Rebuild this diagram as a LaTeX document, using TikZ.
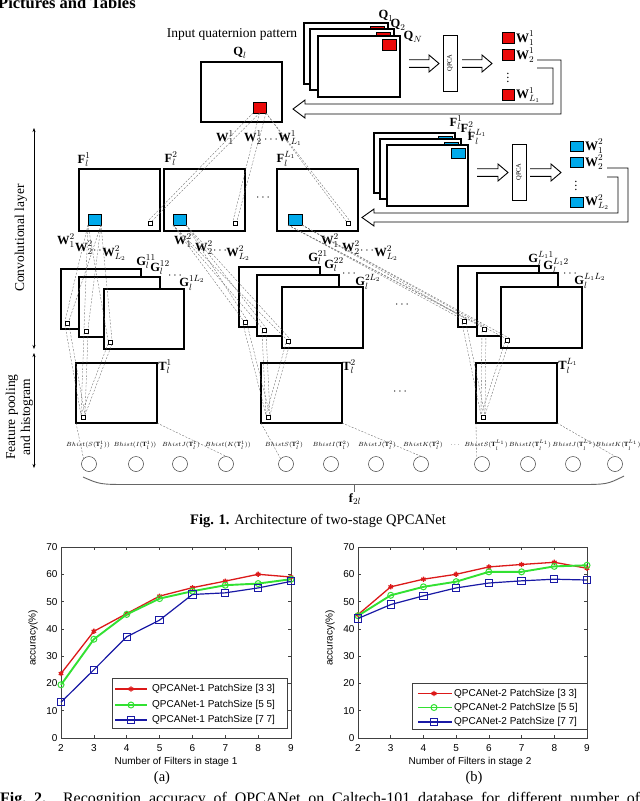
\documentclass[tikz,border=0pt]{standalone}
\usepackage{fontspec}
\setmainfont{Liberation Serif}
\newfontfamily\plotfont{Liberation Sans}
\usetikzlibrary{plotmarks,arrows.meta}
\definecolor{qred}{RGB}{235,10,10}
\definecolor{qcyan}{RGB}{0,170,235}
\definecolor{dgray}{RGB}{105,105,105}
\definecolor{mred}{RGB}{220,25,25}
\definecolor{mgreen}{RGB}{50,225,50}
\definecolor{mblue}{RGB}{25,25,165}
\newcommand\mkbox[6]{%
  \pgfmathsetmacro\mkbw{#5-#3}\pgfmathsetmacro\mkbh{#6-#4}%
  \node[#2, minimum width=\mkbw pt, minimum height=\mkbh pt, inner sep=0pt, outer sep=0pt, anchor=north west] (#1) at (#3,#4) {};}
\newcommand\dblarrow[4]{%
  \draw[harr] (#1,#4-3.8) -- (#2,#4-3.8) -- (#2,#4-8.5) -- (#3,#4) -- (#2,#4+8.5) -- (#2,#4+3.8) -- (#1,#4+3.8);}
\newcommand\bW[2]{$\textbf{W}^{#1}_{#2}$}
\begin{document}
\begin{tikzpicture}[x=1pt,y=-1pt,
  bx/.style={draw=black, line width=1.1pt, fill=white},
  sqr/.style={draw=black, line width=0.6pt, fill=qred},
  sqc/.style={draw=black, line width=0.6pt, fill=qcyan},
  sqw/.style={draw=black, line width=0.6pt, fill=white},
  pbox/.style={draw=black, line width=0.9pt, fill=white},
  dl/.style={draw=dgray, line width=0.35pt, dash pattern=on 2pt off 1.5pt},
  lab/.style={inner sep=0pt, font=\fontsize{12.5}{12}\selectfont},
  wlab/.style={inner sep=0pt, font=\fontsize{13}{12}\selectfont, anchor=west},
  hl/.style={inner sep=0pt, font=\fontsize{6.4}{7}\selectfont},
  circ/.style={draw=black!75, line width=0.5pt, circle, minimum size=15pt, inner sep=0pt},
  harr/.style={draw=black, line width=0.9pt, line join=miter},
  side/.style={inner sep=0pt, font=\fontsize{13.5}{15}\selectfont, rotate=90, align=center},
  ptxt/.style={inner sep=0pt, font=\plotfont\fontsize{10}{10}\selectfont},
  captxt/.style={inner sep=0pt, font=\fontsize{14.5}{15}\selectfont},
  sarr/.style={line width=0.5pt, {Stealth[length=4pt,width=3pt]}-{Stealth[length=4pt,width=3pt]}},
]
\useasboundingbox (0,0) rectangle (640,801);
\fill[white] (0,0) rectangle (640,801);

% header
\node[anchor=base west, inner sep=0, font=\fontsize{16.5}{16}\selectfont\bfseries] (hdr) at (-2,8) {Pictures and Tables};

% ---------- input level ----------
\node[inner sep=0, font=\fontsize{13.5}{14}\selectfont] (inp) at (232,34) {Input quaternion pattern};
\mkbox{qb}{bx}{304}{23}{388}{84}
\mkbox{qbs}{sqr}{370}{26}{384}{37}
\mkbox{qm}{bx}{310}{29}{394}{90}
\mkbox{qms}{sqr}{376}{32}{390}{43}
\mkbox{qf}{bx}{318}{36}{400}{97}
\mkbox{qfs}{sqr}{382}{39}{396}{50}
\node[lab] (lq1) at (386,16) {$\textbf{Q}_1$};
\node[lab] (lq2) at (398,25) {$\textbf{Q}_2$};
\node[lab] (lqn) at (413,37) {$\textbf{Q}_N$};

\node[lab] (lql) at (240,53) {$\textbf{Q}_l$};
\mkbox{ql}{bx}{201}{62}{282}{122}
\mkbox{qls}{sqr}{253}{102}{266}{113}

\dblarrow{409}{429}{439}{63.5}
\mkbox{qp1}{pbox}{443}{35}{457}{91}
\node[rotate=90, inner sep=0, font=\fontsize{6.5}{6.5}\selectfont] (qp1t) at (qp1.center) {QPCA};
\dblarrow{462}{482}{492}{63.5}

\mkbox{w11}{sqr}{502}{32}{514}{43}
\mkbox{w12}{sqr}{502}{49}{514}{60}
\mkbox{w1L}{sqr}{502}{89}{514}{100}
\node[wlab] (lw11) at (516,38) {\bW{1}{1}};
\node[wlab] (lw12) at (516,55) {\bW{1}{2}};
\node[wlab] (lw1L) at (516,95) {\bW{1}{L_1}};
\node[lab] (w1d) at (508,75) {$\vdots$};

\draw[harr] (537,60) -- (561,60) -- (561,114) -- (305,114) -- (305,118) -- (293,109)
  -- (305,100) -- (305,104) -- (553,104) -- (553,68) -- (537,68);

\node[lab] (lw1a) at (225,138) {\bW{1}{1}};
\node[lab] (lw1b) at (253,138) {\bW{1}{2}};
\node[lab] (lw1d) at (271,140) {$\cdots$};
\node[lab] (lw1c) at (290,138) {\bW{1}{L_1}};

% ---------- first stage maps ----------
\node[lab] (lf1) at (84,160) {$\textbf{F}^1_l$};
\node[lab] (lf2) at (171,159) {$\textbf{F}^2_l$};
\node[lab] (lfL) at (286,159) {$\textbf{F}^{L_1}_l$};
\mkbox{f1}{bx}{79}{169}{160}{231}
\mkbox{f2}{bx}{164}{169}{245}{231}
\mkbox{fL}{bx}{277}{169}{358}{231}
\mkbox{fb1}{sqc}{88}{214}{101}{225}
\mkbox{fb2}{sqc}{173}{214}{186}{225}
\mkbox{fbL}{sqc}{288}{214}{302}{225}
\mkbox{f1s}{sqw}{148}{221}{152}{225}
\mkbox{f2s}{sqw}{233}{221}{237}{225}
\mkbox{fLs}{sqw}{346}{221}{350}{225}
\node[lab] (fdots) at (263,198) {$\cdots$};

% stack of F for second QPCA
\mkbox{sb}{bx}{374}{133}{455}{193}
\mkbox{sbs}{sqc}{438}{136}{452}{146}
\mkbox{sm}{bx}{380}{139}{461}{199}
\mkbox{sms}{sqc}{444}{142}{458}{152}
\mkbox{sf}{bx}{387}{145}{468}{206}
\mkbox{sfs}{sqc}{451}{148}{465}{158}
\node[lab] (ls1) at (456,123) {$\textbf{F}^1_l$};
\node[lab] (ls2) at (467,129) {$\textbf{F}^2_l$};
\node[lab] (lsL) at (477,137) {$\textbf{F}^{L_1}_l$};

\dblarrow{477}{498}{508}{172.5}
\mkbox{qp2}{pbox}{512}{144}{526}{200}
\node[rotate=90, inner sep=0, font=\fontsize{6.5}{6.5}\selectfont] (qp2t) at (qp2.center) {QPCA};
\dblarrow{530}{551}{561}{172.5}

\mkbox{w21}{sqc}{570}{141}{583}{151}
\mkbox{w22}{sqc}{570}{157}{583}{167}
\mkbox{w2L}{sqc}{570}{197}{583}{207}
\node[wlab] (lw21) at (585,146) {\bW{2}{1}};
\node[wlab] (lw22) at (585,162) {\bW{2}{2}};
\node[wlab] (lw2L) at (585,202) {\bW{2}{L_2}};
\node[lab] (w2d) at (576,183) {$\vdots$};

\draw[harr] (607,168) -- (628,168) -- (628,222) -- (374,222) -- (374,226) -- (362,217.5)
  -- (374,209) -- (374,213) -- (618,213) -- (618,177) -- (607,177);

% W^2 labels under F maps
\node[lab] (a1) at (66,241) {\bW{2}{1}};
\node[lab] (a2) at (84,248) {\bW{2}{2}};
\node[lab] (ad) at (100,251) {$\cdots$};
\node[lab] (a3) at (114,253) {\bW{2}{L_2}};
\node[lab] (b1) at (183,241) {\bW{2}{1}};
\node[lab] (b2) at (204,248) {\bW{2}{2}};
\node[lab] (bd) at (220,251) {$\cdots$};
\node[lab] (b3) at (238,253) {\bW{2}{L_2}};
\node[lab] (c1) at (330,241) {\bW{2}{1}};
\node[lab] (c2) at (351,248) {\bW{2}{2}};
\node[lab] (cd) at (367,251) {$\cdots$};
\node[lab] (c3) at (386,253) {\bW{2}{L_2}};

% ---------- second stage maps ----------
\mkbox{g1a}{bx}{61}{269}{141}{329}
\mkbox{g1as}{sqw}{65}{321}{69}{325}
\mkbox{g1b}{bx}{79}{277}{160}{337}
\mkbox{g1bs}{sqw}{84}{329}{88}{333}
\mkbox{g1c}{bx}{104}{289}{184}{349}
\mkbox{g1cs}{sqw}{108}{340}{112}{344}
\node[lab] (lg11) at (146,262) {$\textbf{G}^{11}_l$};
\node[lab] (lg12) at (160,268) {$\textbf{G}^{12}_l$};
\node[lab] (lg1d) at (175,276) {$\cdots$};
\node[lab] (lg13) at (192,283) {$\textbf{G}^{1L_2}_l$};

\mkbox{g2a}{bx}{239}{267}{320}{327}
\mkbox{g2as}{sqw}{243}{320}{247}{324}
\mkbox{g2b}{bx}{257}{275}{339}{336}
\mkbox{g2bs}{sqw}{262}{328}{266}{332}
\mkbox{g2c}{bx}{282}{287}{363}{348}
\mkbox{g2cs}{sqw}{286}{339}{290}{343}
\node[lab] (lg21) at (318,258) {$\textbf{G}^{21}_l$};
\node[lab] (lg22) at (334,265) {$\textbf{G}^{22}_l$};
\node[lab] (lg2d) at (349,274) {$\cdots$};
\node[lab] (lg23) at (368,282) {$\textbf{G}^{2L_2}_l$};

\mkbox{g3a}{bx}{458}{266}{539}{327}
\mkbox{g3as}{sqw}{462}{319}{466}{323}
\mkbox{g3b}{bx}{477}{273}{558}{336}
\mkbox{g3bs}{sqw}{482}{327}{486}{331}
\mkbox{g3c}{bx}{501}{287}{582}{348}
\mkbox{g3cs}{sqw}{505}{338}{509}{342}
\node[lab] (lg31) at (541,259) {$\textbf{G}^{L_11}_l$};
\node[lab] (lg32) at (556,266) {$\textbf{G}^{L_12}_l$};
\node[lab] (lg3d) at (570,274) {$\cdots$};
\node[lab] (lg33) at (590,281) {$\textbf{G}^{L_1L_2}_l$};
\node[lab] (gdots) at (402,305) {$\cdots$};

% ---------- pooling ----------
\mkbox{t1}{bx}{76}{363}{157}{423}
\mkbox{t1s}{sqw}{81}{415}{85}{419}
\mkbox{t2}{bx}{261}{363}{342}{423}
\mkbox{t2s}{sqw}{266}{415}{270}{419}
\mkbox{t3}{bx}{476}{363}{557}{423}
\mkbox{t3s}{sqw}{481}{415}{485}{419}
\node[lab] (lt1) at (165,367) {$\textbf{T}^{1}_l$};
\node[lab] (lt2) at (349,367) {$\textbf{T}^{2}_l$};
\node[lab] (lt3) at (568,366) {$\textbf{T}^{L_1}_l$};
\node[lab] (tdots) at (400,392) {$\cdots$};

\node[hl] (h1) at (88,445) {$Bhist(S(\textbf{T}^{1}_{l}))$};
\node[hl] (h2) at (135,445) {$Bhist(I(\textbf{T}^{1}_{l}))$};
\node[hl] (h3) at (181,445) {$BhistJ(\textbf{T}^{1}_{l})$};
\node[hl] (h4) at (228,445) {$Bhist(K(\textbf{T}^{1}_{l}))$};
\node[hl] (h5) at (284,445) {$BhistS(\textbf{T}^{2}_{l})$};
\node[hl] (h6) at (331,445) {$BhistI(\textbf{T}^{2}_{l})$};
\node[hl] (h7) at (377,445) {$BhistJ(\textbf{T}^{2}_{l})$};
\node[hl] (h8) at (423,445) {$BhistK(\textbf{T}^{2}_{l})$};
\node[hl] (hd) at (455,445) {$\cdots$};
\node[hl] (h9) at (486,445) {$BhistS(\textbf{T}^{L_1}_{l})$};
\node[hl] (h10) at (530,445) {$BhistI(\textbf{T}^{L_1}_{l})$};
\node[hl] (h11) at (574,445) {$BhistJ(\textbf{T}^{L_1}_{l})$};
\node[hl] (h12) at (618,445) {$BhistK(\textbf{T}^{L_1}_{l})$};

\node[circ] (o1) at (89,464) {};
\node[circ] (o2) at (136,464) {};
\node[circ] (o3) at (180,464) {};
\node[circ] (o4) at (226,464) {};
\node[circ] (o5) at (286,464) {};
\node[circ] (o6) at (331,464) {};
\node[circ] (o7) at (376,464) {};
\node[circ] (o8) at (421,464) {};
\node[circ] (o9) at (482,464) {};
\node[circ] (o10) at (528,464) {};
\node[circ] (o11) at (573,464) {};
\node[circ] (o12) at (615,464) {};

\coordinate (brl) at (83,477);
\coordinate (brr) at (624,476);
\coordinate (brm) at (354,484.5);
\draw[draw=black!60, line width=0.9pt] (brl) .. controls (100,484.5) .. (131,484.5) -- (577,484.5) .. controls (607,484.5) .. (brr);
\draw[draw=black!60, line width=0.6pt] (brm) -- ++(0,7);
\node[lab] (f2l) at (355,499) {$\textbf{f}_{2l}$};

% side annotations
\coordinate (sa1) at (34,128); \coordinate (sa2) at (34,349);
\coordinate (sa3) at (34,353); \coordinate (sa4) at (34,468);
\draw[sarr] (sa1) -- (sa2);
\draw[sarr] (sa3) -- (sa4);
\node[side] (conv) at (21,238) {Convolutional layer};
\node[side] (feat) at (19.5,417) {Feature pooling\\and histogram};

% ---------- dashed projections ----------
\draw[dl] (qls.south west) -- (f1s.north west);
\draw[dl] (qls.south) -- (f1s.north east);
\draw[dl] (qls.south) -- (f2s.north west);
\draw[dl] (qls.south east) -- (f2s.north east);
\draw[dl] (qls.south east) -- (fLs.north west);
\draw[dl] (qls.south east) -- (fLs.north east);
\foreach \g in {a,b,c}{
  \draw[dl] (fb1.south west) -- (g1\g s.north west);
  \draw[dl] (fb1.south east) -- (g1\g s.north east);
  \draw[dl] (fb2.south west) -- (g2\g s.north west);
  \draw[dl] (fb2.south east) -- (g2\g s.north east);
  \draw[dl] (fbL.south west) -- (g3\g s.north west);
  \draw[dl] (fbL.south east) -- (g3\g s.north east);
  \draw[dl] (g1\g s.south west) -- (t1s.north west);
  \draw[dl] (g1\g s.south east) -- (t1s.north east);
  \draw[dl] (g2\g s.south west) -- (t2s.north west);
  \draw[dl] (g2\g s.south east) -- (t2s.north east);
  \draw[dl] (g3\g s.south west) -- (t3s.north west);
  \draw[dl] (g3\g s.south east) -- (t3s.north east);
}
\draw[dl] (t1.south west) -- (o1.north west);
\draw[dl] (t1.south east) -- (o4.north);
\draw[dl] (t2.south west) -- (o5.north west);
\draw[dl] (t2.south east) -- (o8.north);
\draw[dl] (t3.south west) -- (o9.north west);
\draw[dl] (t3.south east) -- (o12.north);

\node[captxt] (cap1) at (318,521) {\textbf{Fig. 1.} Architecture of two-stage QPCANet};

% ---------- plot (a) ----------
\begin{scope}[shift={(61,738)}, x=32.857pt, y=2.7286pt]
  \draw[black!75, line width=0.6pt] (0,0) rectangle (7,70);
  \foreach \i [evaluate=\i as \xl using int(\i+2)] in {0,...,7}{
    \draw[black!75, line width=0.5pt] (\i,0) -- (\i,1.1) (\i,70) -- (\i,68.9);
    \node[ptxt] (xa\i) at (\i,-3.7) {\xl};}
  \foreach \j in {0,10,...,70}{
    \draw[black!75, line width=0.5pt] (0,\j) -- (0.09,\j) (7,\j) -- (6.91,\j);
    \node[ptxt, anchor=east] (ya\j) at (-0.1,\j) {\j};}
  \draw[mred, line width=1.3pt, mark=asterisk, mark size=2.6pt] plot coordinates {(0,23.6) (1,39.1) (2,45.6) (3,52) (4,55.1) (5,57.5) (6,60) (7,59)};
  \draw[mgreen, line width=1.9pt, mark=o, mark size=3pt, mark options={line width=1pt}] plot coordinates {(0,19.5) (1,36.2) (2,45.3) (3,51.1) (4,53.8) (5,56) (6,56.6) (7,58.2)};
  \draw[mblue, line width=1.2pt, mark=square, mark size=3.6pt, mark options={line width=1pt}] plot coordinates {(0,13.1) (1,25) (2,37.1) (3,43.2) (4,52.6) (5,53.2) (6,55) (7,57.4)};
\end{scope}
\node[ptxt] (xla) at (176,762) {Number of Filters in stage 1};
\node[ptxt, rotate=90] (yla) at (33,638) {accuracy(\%)};
\node[draw=black!75, line width=0.5pt, fill=white, minimum width=175pt, minimum height=50pt, anchor=north west, inner sep=0] (lega) at (112,678) {};
\draw[mred, line width=1.3pt] (115,689) -- (147,689);
\path[mred, line width=1.3pt] plot[mark=asterisk, mark size=2.6pt] coordinates {(131,689)};
\node[ptxt, anchor=west] (la1) at (152,689) {QPCANet-1 PatchSize [3 3]};
\draw[mgreen, line width=1.9pt] (115,705) -- (147,705);
\path[mgreen] plot[mark=o, mark size=3pt, mark options={line width=1pt}] coordinates {(131,705)};
\node[ptxt, anchor=west] (la2) at (152,705) {QPCANet-1 PatchSize [5 5]};
\draw[mblue, line width=1.2pt] (115,720) -- (147,720);
\path[mblue] plot[mark=square, mark size=3.6pt, mark options={line width=1pt}] coordinates {(131,720)};
\node[ptxt, anchor=west] (la3) at (152,720) {QPCANet-1 PatchSize [7 7]};
\node[captxt] (capa) at (162,778) {(a)};

% ---------- plot (b) ----------
\begin{scope}[shift={(358,738)}, x=32.714pt, y=2.7286pt]
  \draw[black!75, line width=0.6pt] (0,0) rectangle (7,70);
  \foreach \i [evaluate=\i as \xl using int(\i+2)] in {0,...,7}{
    \draw[black!75, line width=0.5pt] (\i,0) -- (\i,1.1) (\i,70) -- (\i,68.9);
    \node[ptxt] (xb\i) at (\i,-3.7) {\xl};}
  \foreach \j in {0,10,...,70}{
    \draw[black!75, line width=0.5pt] (0,\j) -- (0.09,\j) (7,\j) -- (6.91,\j);
    \node[ptxt, anchor=east] (yb\j) at (-0.1,\j) {\j};}
  \draw[mred, line width=1.3pt, mark=asterisk, mark size=2.6pt] plot coordinates {(0,45.2) (1,55.4) (2,58.2) (3,60) (4,62.7) (5,63.6) (6,64.4) (7,62.2)};
  \draw[mgreen, line width=1.9pt, mark=o, mark size=3pt, mark options={line width=1pt}] plot coordinates {(0,44.8) (1,52.3) (2,55.4) (3,57.3) (4,60.9) (5,60.9) (6,62.9) (7,63.3)};
  \draw[mblue, line width=1.2pt, mark=square, mark size=3.6pt, mark options={line width=1pt}] plot coordinates {(0,43.8) (1,48.9) (2,52.1) (3,55) (4,56.8) (5,57.6) (6,58.2) (7,57.9)};
\end{scope}
\node[ptxt] (xlb) at (470,762) {Number of Filters in stage 2};
\node[ptxt, rotate=90] (ylb) at (330,638) {accuracy(\%)};
\node[draw=black!75, line width=0.5pt, fill=white, minimum width=175pt, minimum height=46pt, anchor=north west, inner sep=0] (legb) at (412,683) {};
\draw[mred, line width=1.3pt] (418,693.5) -- (452,693.5);
\path[mred, line width=1.3pt] plot[mark=asterisk, mark size=2.6pt] coordinates {(434,693.5)};
\node[ptxt, anchor=west] (lb1) at (454,693.5) {QPCANet-2 PatchSize [3 3]};
\draw[mgreen, line width=1.9pt] (418,707.5) -- (452,707.5);
\path[mgreen] plot[mark=o, mark size=3pt, mark options={line width=1pt}] coordinates {(434,707.5)};
\node[ptxt, anchor=west] (lb2) at (454,707.5) {QPCANet-2 PatchSIze [5 5]};
\draw[mblue, line width=1.2pt] (418,722) -- (452,722);
\path[mblue] plot[mark=square, mark size=3.6pt, mark options={line width=1pt}] coordinates {(434,722)};
\node[ptxt, anchor=west] (lb3) at (454,722) {QPCANet-2 PatchSize [7 7]};
\node[captxt] (capb) at (474,778) {(b)};

\node[anchor=base west, inner sep=0, font=\fontsize{16}{16}\selectfont] (cap2) at (0,803)
  {\hbox to 640pt{\textbf{Fig.\ 2.} Recognition accuracy of QPCANet on Caltech-101 database for different number of}};
\end{tikzpicture}
\end{document}
